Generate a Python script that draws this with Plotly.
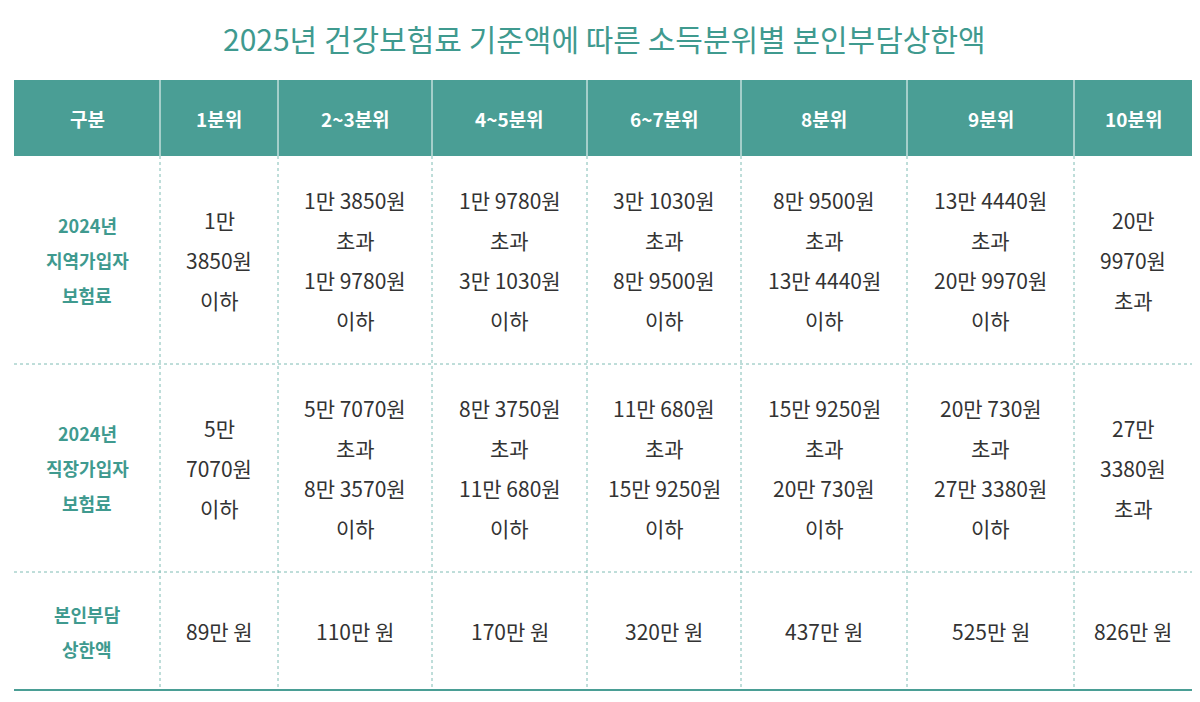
import plotly.graph_objects as go

title = "2025년 건강보험료 기준액에 따른 소득분위별 본인부담상한액"
headers = ["구분", "1분위", "2~3분위", "4~5분위", "6~7분위", "8분위", "9분위", "10분위"]
row_labels = [["2024년", "지역가입자", "보험료"], ["2024년", "직장가입자", "보험료"], ["본인부담", "상한액"]]
regional = [["1만", "3850원", "이하"], ["1만 3850원", "초과", "1만 9780원", "이하"],
            ["1만 9780원", "초과", "3만 1030원", "이하"], ["3만 1030원", "초과", "8만 9500원", "이하"],
            ["8만 9500원", "초과", "13만 4440원", "이하"], ["13만 4440원", "초과", "20만 9970원", "이하"],
            ["20만", "9970원", "초과"]]
employee = [["5만", "7070원", "이하"], ["5만 7070원", "초과", "8만 3570원", "이하"],
            ["8만 3750원", "초과", "11만 680원", "이하"], ["11만 680원", "초과", "15만 9250원", "이하"],
            ["15만 9250원", "초과", "20만 730원", "이하"], ["20만 730원", "초과", "27만 3380원", "이하"],
            ["27만", "3380원", "초과"]]
caps = ["89만 원", "110만 원", "170만 원", "320만 원", "437만 원", "525만 원", "826만 원"]

col_edges = [14, 160, 278, 432, 587, 741, 907, 1074, 1192]
row_edges = [80, 156, 364, 572, 690]
TEAL = "#4a9e95"
TEXT = "#333333"
FONT = "Noto Sans CJK KR"

fig = go.Figure()
shapes, anns = [], []
shapes.append(dict(type="rect", x0=col_edges[0], x1=col_edges[-1], y0=row_edges[0], y1=row_edges[1],
                   fillcolor=TEAL, line=dict(width=0), layer="below"))
for x in col_edges[1:-1]:
    shapes.append(dict(type="line", x0=x, x1=x, y0=row_edges[0], y1=row_edges[1], line=dict(color="white", width=1)))
    shapes.append(dict(type="line", x0=x, x1=x, y0=row_edges[1], y1=row_edges[-1], line=dict(color="#7fbcb4", width=1, dash="dot")))
for y in row_edges[2:-1]:
    shapes.append(dict(type="line", x0=col_edges[0], x1=col_edges[-1], y0=y, y1=y, line=dict(color="#7fbcb4", width=1, dash="dot")))
shapes.append(dict(type="line", x0=col_edges[0], x1=col_edges[-1], y0=row_edges[-1], y1=row_edges[-1], line=dict(color=TEAL, width=2)))

def cx(i):
    return (col_edges[i] + col_edges[i + 1]) / 2

def add_lines(x, yc, lines, spacing, size, color, bold=False):
    n = len(lines)
    for k, t in enumerate(lines):
        y = yc + (k - (n - 1) / 2) * spacing
        anns.append(dict(x=x, y=y, text=f"<b>{t}</b>" if bold else t, showarrow=False,
                         font=dict(family=FONT, size=size, color=color), xanchor="center", yanchor="middle"))

anns.append(dict(x=604, y=38, text=title, showarrow=False, font=dict(family=FONT, size=30, color="#3f9a8f")))
for i, h in enumerate(headers):
    add_lines(cx(i), 118, [h], 0, 19, "white", bold=True)
for r, lbl in enumerate(row_labels):
    yc = (row_edges[r + 1] + row_edges[r + 2]) / 2
    add_lines(cx(0), yc, lbl, 35, 18, "#3f9a8f", bold=True)
for r, data in enumerate([regional, employee]):
    yc = (row_edges[r + 1] + row_edges[r + 2]) / 2
    for i, cell in enumerate(data):
        add_lines(cx(i + 1), yc, cell, 40, 21, TEXT)
yc = (row_edges[3] + row_edges[4]) / 2
for i, c in enumerate(caps):
    add_lines(cx(i + 1), yc, [c], 0, 21, TEXT)

fig.update_layout(width=1200, height=702, margin=dict(l=0, r=0, t=0, b=0),
                  plot_bgcolor="white", paper_bgcolor="white", shapes=shapes, annotations=anns,
                  xaxis=dict(range=[8, 1208], visible=False, fixedrange=True),
                  yaxis=dict(range=[710, 8], visible=False, fixedrange=True))
fig.write_html("out.html")
